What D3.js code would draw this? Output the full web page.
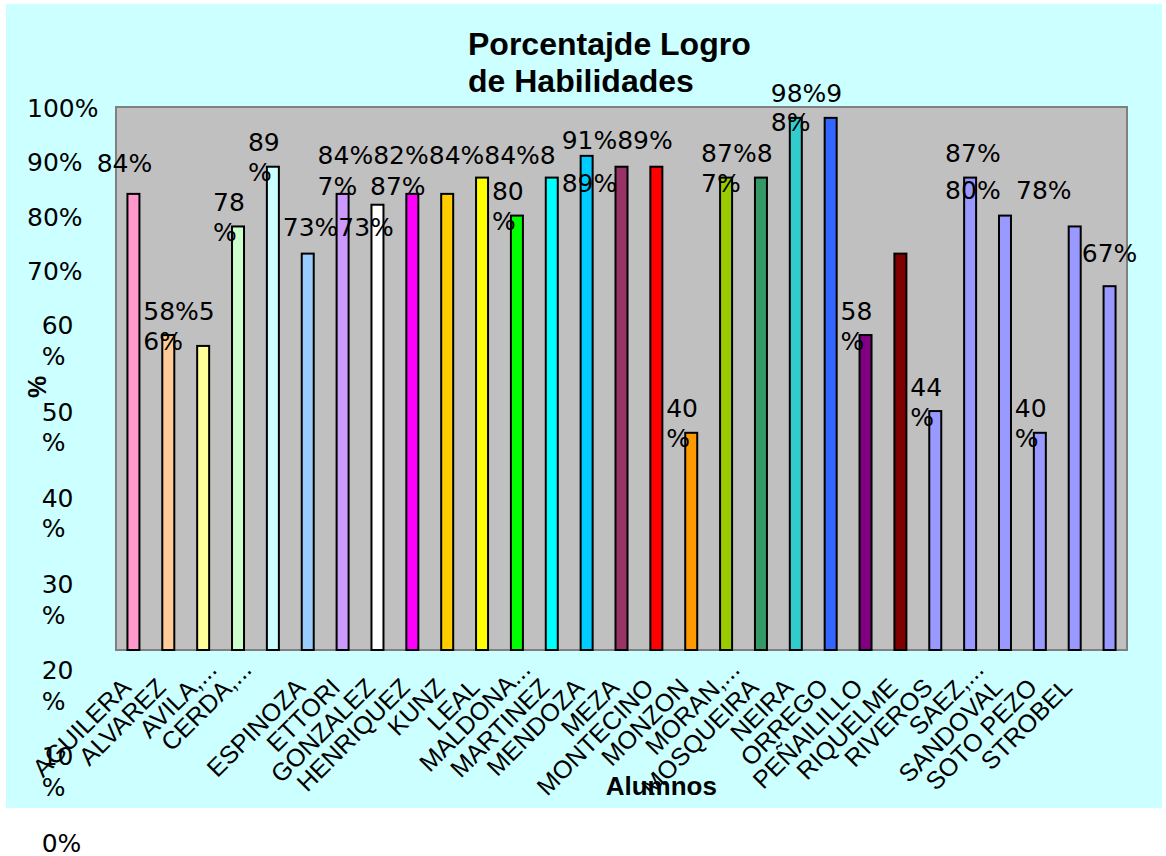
<!DOCTYPE html>
<html>
<head>
<meta charset="utf-8">
<script src="https://cdn.jsdelivr.net/npm/d3@7"></script>
<style>
  body { margin: 0; background: #ffffff; }
  svg { display: block; }
</style>
</head>
<body>
<svg id="chart" width="1166" height="856"></svg>
<script>
// ---- data ----
const students = ["AGUILERA", "ALVAREZ", "AVILA,...", "CERDA,...", "", "ESPINOZA", "ETTORI",
  "GONZALEZ", "HENRIQUEZ", "KUNZ", "LEAL", "MALDONA...", "MARTINEZ", "MENDOZA", "MEZA",
  "MONTECINO", "MONZON", "MORAN,...", "MOSQUEIRA", "NEIRA", "ORREGO", "PEÑAILILLO",
  "RIQUELME", "RIVEROS", "SAEZ,...", "SANDOVAL", "SOTO PEZO", "STROBEL", ""];

const logro = [0.84, 0.58, 0.56, 0.78, 0.89, 0.73, 0.84, 0.82, 0.84, 0.84, 0.87, 0.80,
  0.87, 0.91, 0.89, 0.89, 0.40, 0.87, 0.87, 0.98, 0.98, 0.58, 0.73, 0.44, 0.87, 0.80,
  0.40, 0.78, 0.67];

const barColors = ["#FF99CC", "#FFCC99", "#FFFF99", "#CCFFCC", "#CCFFFF", "#99CCFF",
  "#CC99FF", "#FFFFFF", "#FF00FF", "#FFCC00", "#FFFF00", "#00FF00", "#00FFFF", "#00CCFF",
  "#993366", "#FF0000", "#FF9900", "#99CC00", "#339966", "#33CCCC", "#3366FF", "#800080",
  "#800000", "#9999FF", "#9999FF", "#9999FF", "#9999FF", "#9999FF", "#9999FF"];

const yTicks = [1, 0.9, 0.8, 0.7, 0.6, 0.5, 0.4, 0.3, 0.2, 0.1, 0];

const titleLines = ["Porcentajde Logro", "de Habilidades"];
const xTitle = "Alumnos";
const yTitle = "%";

// ---- value-label runs: which bars' labels are set together, and where ----
// at: bar the run hangs from; bars: labels joined into the run; chars: wrap length
const labelRuns = [
  { at: 0,  bars: [0],              chars: 3,  dx: -36.7, dy: -22 },
  { at: 1,  bars: [1, 2],           chars: 4 },
  { at: 3,  bars: [3],              chars: 2 },
  { at: 4,  bars: [4],              chars: 2 },
  { at: 5,  bars: [5, 22],          chars: 6,  dy: -17.6 },
  { at: 6,  bars: [6, 7, 8, 9, 10], chars: 13, dy: -30, lh: 31 },
  { at: 7,  bars: [12],             chars: 3,  dx: -7.4, dy: -9.7 },
  { at: 11, bars: [11],             chars: 2 },
  { at: 13, bars: [13, 14],         chars: 6,  dy: -7 },
  { at: 13, bars: [15],             chars: 3,  dy: 36 },
  { at: 16, bars: [16],             chars: 2 },
  { at: 17, bars: [17, 18],         chars: 4 },
  { at: 19, bars: [19, 20],         chars: 4,  lh: 28.5 },
  { at: 21, bars: [21],             chars: 2 },
  { at: 23, bars: [23],             chars: 2 },
  { at: 24, bars: [24, 25],         chars: 3,  lh: 36.6 },
  { at: 26, bars: [26],             chars: 2 },
  { at: 27, bars: [27],             chars: 3,  dx: -58.7, dy: -27 },
  { at: 28, bars: [28],             chars: 3,  dx: -27.8, dy: -24.5 }
];

// ---- layout ----
const frame = { x: 6, y: 4, w: 1156, h: 804 };
const plot = { left: 116, right: 1127, top: 107, bottom: 650 };
const numFont = "'DejaVu Sans', sans-serif";
const sansFont = "'Liberation Sans', Arial, sans-serif";

const svg = d3.select("#chart");

svg.append("rect")
  .attr("x", frame.x).attr("y", frame.y)
  .attr("width", frame.w).attr("height", frame.h)
  .attr("fill", "#CCFFFF");

const x = d3.scaleBand()
  .domain(d3.range(logro.length))
  .range([plot.left, plot.right])
  .paddingInner(0.656)
  .paddingOuter(0.328);

const y = d3.scaleLinear().domain([0, 1]).range([plot.bottom, plot.top]);
const pct = d3.format(".0%");

// plot area
svg.append("rect")
  .attr("x", plot.left).attr("y", plot.top)
  .attr("width", plot.right - plot.left).attr("height", plot.bottom - plot.top)
  .attr("fill", "#C0C0C0")
  .attr("stroke", "#808080")
  .attr("stroke-width", 2);

// bars
svg.append("g").selectAll("rect")
  .data(logro)
  .join("rect")
  .attr("x", (d, i) => x(i))
  .attr("y", d => y(d))
  .attr("width", x.bandwidth())
  .attr("height", d => y(0) - y(d))
  .attr("fill", (d, i) => barColors[i])
  .attr("stroke", "#000")
  .attr("stroke-width", 2);

// y tick labels, stacked down the left margin (narrow ones wrap the % sign)
const tickG = svg.append("g")
  .attr("font-family", numFont)
  .attr("font-size", 25)
  .attr("fill", "#000");
let base = 116.7;
yTicks.forEach(t => {
  const s = pct(t);
  const lines = (t >= 0.7 || t === 0) ? [s] : [s.slice(0, -1), "%"];
  const tx = t >= 0.7 ? 27 : 41.7;
  const txt = tickG.append("text").attr("x", tx).attr("y", base);
  lines.forEach((ln, k) => {
    txt.append("tspan").attr("x", tx).attr("dy", k === 0 ? 0 : 30.7).text(ln);
  });
  base += lines.length > 1 ? 55.5 + 30.7 * (lines.length - 1) : 54.4;
});

// category labels, rotated
const catG = svg.append("g")
  .attr("font-family", sansFont)
  .attr("font-size", 25)
  .attr("fill", "#000");
students.forEach((name, i) => {
  if (!name) return;
  const c = x(i) + x.bandwidth() / 2;
  const trunc = name.endsWith("...");
  const px = trunc ? c + 15 : c - 1;
  const py = trunc ? 671 : 689;
  catG.append("text")
    .attr("transform", `translate(${px},${py}) rotate(-45)`)
    .attr("text-anchor", "end")
    .text(name);
});

// value labels
const valG = svg.append("g")
  .attr("font-family", numFont)
  .attr("font-size", 25)
  .attr("fill", "#000");
labelRuns.forEach(run => {
  const str = run.bars.map(b => pct(logro[b])).join("");
  const lines = [];
  for (let k = 0; k < str.length; k += run.chars) lines.push(str.slice(k, k + run.chars));
  const lx = x(run.at) + x.bandwidth() / 2 + (run.dx ?? -25);
  const ly = y(logro[run.at]) + (run.dy ?? -15.5);
  const lh = run.lh ?? 30;
  const txt = valG.append("text").attr("x", lx).attr("y", ly);
  lines.forEach((ln, k) => {
    txt.append("tspan").attr("x", lx).attr("dy", k === 0 ? 0 : lh).text(ln);
  });
});

// title
const title = svg.append("text")
  .attr("font-family", sansFont)
  .attr("font-weight", "bold")
  .attr("font-size", 32)
  .attr("fill", "#000")
  .attr("x", 468).attr("y", 55);
titleLines.forEach((ln, k) => {
  title.append("tspan").attr("x", 468).attr("dy", k === 0 ? 0 : 36.7).text(ln);
});

// axis titles
svg.append("text")
  .attr("font-family", sansFont)
  .attr("font-weight", "bold")
  .attr("font-size", 26)
  .attr("x", 605.7).attr("y", 795)
  .text(xTitle);

svg.append("text")
  .attr("font-family", sansFont)
  .attr("font-weight", "bold")
  .attr("font-size", 25)
  .attr("text-anchor", "middle")
  .attr("transform", "translate(46,387) rotate(-90)")
  .text(yTitle);
</script>
</body>
</html>
